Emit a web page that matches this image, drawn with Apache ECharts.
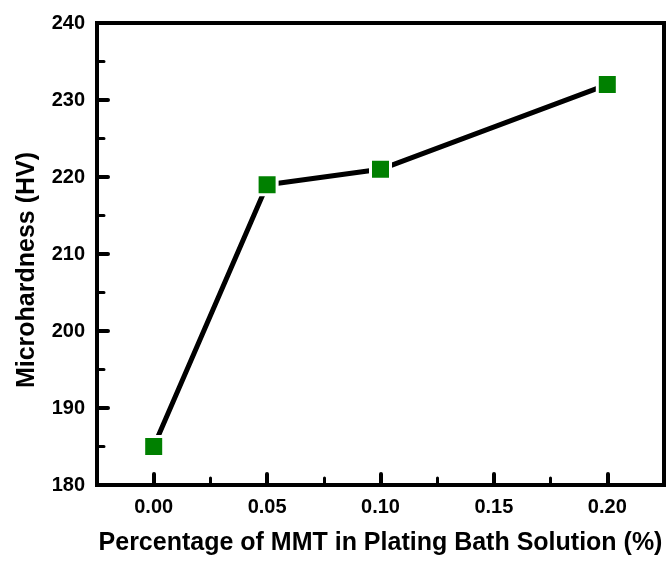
<!DOCTYPE html>
<html>
<head>
<meta charset="utf-8">
<script src="https://cdn.jsdelivr.net/npm/echarts@6/dist/echarts.min.js"></script>
<style>html,body{margin:0;padding:0;background:#fff}#c{width:667px;height:561px}</style>
</head>
<body>
<div id="c"></div>
<script>
var xValues = [0.00, 0.05, 0.10, 0.20];
var hardness = [185, 219, 221, 232];
var xMajorTicks = [0.00, 0.05, 0.10, 0.15, 0.20];
var xMinorTicks = [0.025, 0.075, 0.125, 0.175];
var xTitle = 'Percentage of MMT in Plating Bath Solution (%)';
var yTitle = 'Microhardness (HV)';

var FONT = '"Liberation Sans", Arial, sans-serif';
var chart = echarts.init(document.getElementById('c'), null, {renderer: 'canvas'});
var pts = xValues.map(function (x, i) { return [x, hardness[i]]; });

chart.setOption({
  animation: false,
  backgroundColor: '#fff',
  grid: {left: 97, right: 3, top: 23, bottom: 76, show: true, borderColor: '#000', borderWidth: 4, backgroundColor: 'transparent'},
  xAxis: [{
    type: 'value', min: -0.025, max: 0.225,
    name: xTitle, nameLocation: 'middle', nameGap: 46,
    nameTextStyle: {fontFamily: FONT, fontWeight: 'bold', fontSize: 25, color: '#000'},
    axisLine: {show: true, onZero: false, lineStyle: {color: '#000', width: 4}},
    axisTick: {show: true, inside: true, length: 11, customValues: xMajorTicks, lineStyle: {color: '#000', width: 4, cap: 'round'}},
    axisLabel: {show: true, customValues: xMajorTicks, margin: 12, fontFamily: FONT, fontWeight: 'bold', fontSize: 20, color: '#000',
      formatter: function (v) { return (+v).toFixed(2); }},
    splitLine: {show: false}
  }, {
    type: 'value', min: -0.025, max: 0.225, position: 'bottom',
    axisLine: {show: false, onZero: false},
    axisTick: {show: true, inside: true, length: 7, customValues: xMinorTicks, lineStyle: {color: '#000', width: 3, cap: 'round'}},
    axisLabel: {show: false},
    splitLine: {show: false}
  }],
  yAxis: {
    type: 'value', min: 180, max: 240, interval: 10,
    axisLine: {show: true, onZero: false, lineStyle: {color: '#000', width: 4}},
    axisTick: {show: true, inside: true, length: 11, lineStyle: {color: '#000', width: 4, cap: 'round'}},
    minorTick: {show: true, splitNumber: 2, length: 7, lineStyle: {color: '#000', width: 3, cap: 'round'}},
    axisLabel: {margin: 12, fontFamily: FONT, fontWeight: 'bold', fontSize: 20, color: '#000'},
    splitLine: {show: false}
  },
  graphic: [{
    type: 'text', x: 27, y: 270, rotation: Math.PI / 2,
    style: {text: yTitle, fontFamily: FONT, fontWeight: 'bold', fontSize: 25, fill: '#000', align: 'center', verticalAlign: 'middle'}
  }],
  series: [{
    type: 'line', xAxisIndex: 0, data: pts,
    symbol: 'rect', symbolSize: 20,
    lineStyle: {color: '#000', width: 5},
    itemStyle: {color: '#008000', borderColor: '#fff', borderWidth: 3},
    z: 3
  }]
});
</script>
</body>
</html>
